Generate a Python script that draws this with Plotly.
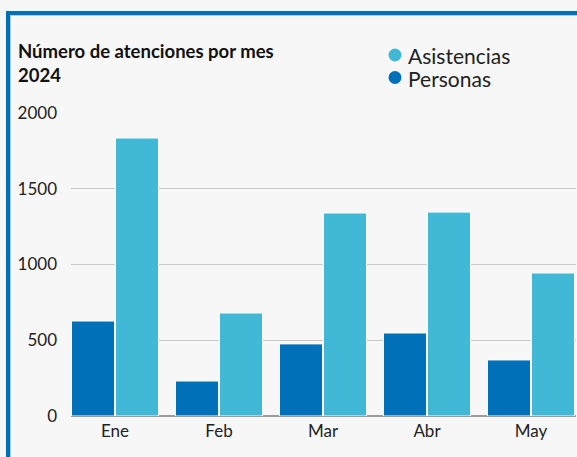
import plotly.graph_objects as go

months = ["Ene", "Feb", "Mar", "Abr", "May"]
personas = [627, 231, 476, 548, 370]
asistencias = [1835, 680, 1340, 1346, 944]
y_ticks = [0, 500, 1000, 1500, 2000]
legend_names = ["Asistencias", "Personas"]

C_PER = "#0070b8"
C_ASI = "#42b8d7"
BG = "#f7f7f7"
legend_colors = [C_ASI, C_PER]

W, H = 577, 457
L, R, T, B = 71, 1, 113, 41
pw, ph = W - L - R, H - T - B


def px(xp):
    return (xp - L) / pw


def py(yp):
    return (H - B - yp) / ph


fig = go.Figure()
fig.add_trace(go.Bar(x=months, y=personas, name="Personas", marker_color=C_PER,
                     marker_line=dict(color="#ffffff", width=1), showlegend=False,
                     hoverinfo="skip"))
fig.add_trace(go.Bar(x=months, y=asistencias, name="Asistencias", marker_color=C_ASI,
                     marker_line=dict(color="#ffffff", width=1), showlegend=False,
                     hoverinfo="skip"))

annotations = [dict(
    text="<b>Número de atenciones por mes<br>2024</b>",
    xref="paper", yref="paper", x=px(16), y=py(38),
    xanchor="left", yanchor="top", align="left", showarrow=False,
    font=dict(size=18.5, color="#111111", family="Lato, sans-serif"))]

shapes = [
    dict(type="rect", xref="paper", yref="paper",
         x0=px(8), x1=px(W + 20), y0=py(H + 20), y1=py(13),
         line=dict(color=C_PER, width=4), fillcolor="rgba(0,0,0,0)", layer="above"),
    dict(type="rect", xref="paper", yref="paper",
         x0=px(10.5), x1=px(W + 20), y0=py(H + 20), y1=py(15.5),
         line=dict(color="#a9cbe9", width=1), fillcolor="rgba(0,0,0,0)", layer="above"),
]

# custom legend (circle swatches + labels)
row_y = [55, 77.5]
for name, col, cy in zip(legend_names, legend_colors, row_y):
    shapes.append(dict(type="circle", xref="paper", yref="paper",
                       x0=px(388.5), x1=px(401.5), y0=py(cy + 6.5), y1=py(cy - 6.5),
                       fillcolor=col, line=dict(width=0), layer="above"))
    annotations.append(dict(text=name, xref="paper", yref="paper",
                            x=px(406), y=py(cy + 0.5), xanchor="left", yanchor="middle",
                            showarrow=False,
                            font=dict(size=21, color="#222222", family="Lato, sans-serif")))

fig.update_layout(
    width=W, height=H,
    margin=dict(l=L, r=R, t=T, b=B, pad=0),
    paper_bgcolor=BG, plot_bgcolor=BG,
    font=dict(family="Lato, 'Open Sans', sans-serif", color="#222222"),
    barmode="group", bargap=0.154, bargroupgap=0.02,
    showlegend=False,
    xaxis=dict(type="category", range=[-0.423, 4.433], showgrid=False,
               showline=False, zeroline=False, ticks="",
               tickfont=dict(size=17, color="#222222"), ticklabelstandoff=3),
    yaxis=dict(range=[0, 2000], tickvals=y_ticks, showgrid=True,
               gridcolor="#c9c9c9", gridwidth=1, zeroline=True,
               zerolinecolor="#9a9a9a", zerolinewidth=2, showline=False,
               ticks="", tickfont=dict(size=17, color="#222222"),
               ticklabelstandoff=13),
    annotations=annotations,
    shapes=shapes,
)

fig.write_html(
    "out.html",
    config={"displayModeBar": False},
    post_script="document.body.style.margin='0';document.body.style.background='#f7f7f7';",
)
